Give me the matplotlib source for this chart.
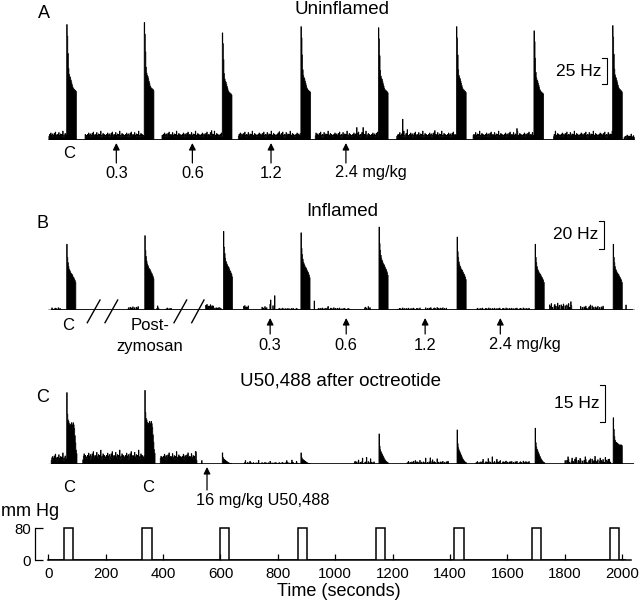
import numpy as np
import matplotlib.pyplot as plt

plt.rcParams['font.family'] = ['Liberation Sans', 'DejaVu Sans']

# ---- data (seconds, Hz, mm Hg) ----
stim_on = [55, 328, 598, 869, 1142, 1415, 1684, 1956]
stim_off = [87, 360, 631, 902, 1174, 1447, 1717, 1990]
stim_mmhg = 80
time_ticks = [0, 200, 400, 600, 800, 1000, 1200, 1400, 1600, 1800, 2000]

bin_w = 2

# baseline texture patterns (typed by eye from the trace)
ripple = [1.0, 0.8, 1.2, 0.9, 1.5, 0.7, 1.1, 1.3, 0.6, 1.0, 1.4, 0.9, 1.7,
          0.8, 1.0, 1.2, 0.5, 1.1, 1.6, 0.9, 1.0, 1.3, 0.7, 1.2, 0.8, 1.9,
          1.0, 0.6, 1.1, 1.4, 0.9, 1.2, 0.8]
sparse = [1.0, 0, 0, 1.2, 0.8, 0, 1.5, 0, 0.6, 0, 0, 1.0, 1.3, 0, 0.9, 0,
          0, 1.6, 0, 0.7, 1.1, 0, 0, 1.2, 0, 0.8, 0, 1.4, 0, 0]

# A: uninflamed
a_starts = [64, 334, 607, 880, 1150, 1423, 1693, 1966]
a_peaks = [111, 113, 103, 109, 108, 109, 105, 110]
a_shape = [1.0, 0.9, 0.75, 0.62, 0.57, 0.55, 0.54, 0.52, 0.5, 0.48, 0.46,
           0.45, 0.44, 0.44, 0.43, 0.43, 0.42]
a_segments = [(2, 64, 4.5, 'd'), (128, 334, 4.5, 'd'), (395, 607, 4.5, 'd'),
              (662, 880, 4.5, 'd'), (930, 1150, 4.5, 'd'), (1214, 1423, 4.5, 'd'),
              (1480, 1693, 4.5, 'd'), (1760, 1966, 4.5, 'd'), (2006, 2042, 3.0, 'd')]
a_spikes = [(569, 9), (805, 8), (1074, 12), (1097, 12), (1235, 20), (1251, 10),
            (1347, 9), (1632, 11)]
a_doses = [237, 502, 776, 1037]
a_dose_labels = ['0.3', '0.6', '1.2', '2.4 mg/kg']

# B: inflamed
b_starts = [64, 337, 610, 880, 1152, 1424, 1696, 1969]
b_peaks = [46, 52, 55, 54, 58, 51, 46, 46]
b_shape = [1.0, 0.8, 0.72, 0.66, 0.62, 0.6, 0.58, 0.56, 0.55, 0.54, 0.52,
           0.5, 0.49, 0.47, 0.45, 0.42]
b_segments = [(9, 41, 1.0, 's'), (275, 314, 1.6, 's'), (377, 386, 1.5, 'd'),
              (407, 430, 1.0, 's'), (548, 575, 2.3, 'd'), (575, 604, 1.3, 's'),
              (679, 697, 1.8, 'd'), (743, 761, 1.5, 's'), (795, 870, 0.8, 's'),
              (940, 1017, 1.0, 's'), (1017, 1051, 0.8, 's'), (1097, 1121, 1.5, 's'),
              (1214, 1295, 0.9, 's'), (1313, 1388, 1.1, 's'), (1493, 1678, 0.9, 's'),
              (1742, 1824, 3.0, 's'), (1853, 1934, 1.8, 's')]
b_spikes = [(772, 4), (775, 7), (782, 3), (788, 10), (926, 6.3), (975, 2.5),
            (1820, 5.8), (1888, 3.5), (2013, 3.5)]
b_doses = [773, 1038, 1313, 1575]
b_dose_labels = ['0.3', '0.6', '1.2', '2.4 mg/kg']

# C: U50,488 after octreotide
c_starts = [64, 337, 607, 880, 1153, 1424, 1696, 1969]
c_peaks = [28.8, 29.7, 4.6, 4.6, 12.2, 13.8, 14.5, 18.7]
c_shape_kind = [0, 0, 1, 1, 1, 1, 1, 2]
c_shapes = [
    [1.0, 0.7, 0.62, 0.6, 0.57, 0.55, 0.54, 0.56, 0.58, 0.55, 0.5, 0.58,
     0.55, 0.5, 0.4, 0.3, 0.2, 0.15],
    [1.0, 0.6, 0.48, 0.42, 0.38, 0.34, 0.3, 0.26, 0.22, 0.18, 0.15, 0.12,
     0.1, 0.08, 0.06, 0.05, 0.04],
    [1.0, 0.75, 0.6, 0.52, 0.48, 0.47, 0.46, 0.45, 0.44, 0.42, 0.42, 0.41,
     0.40, 0.42, 0.41, 0.40],
]
c_segments = [(9, 62, 2.4, 'd'), (120, 337, 3.0, 'd'), (389, 517, 2.7, 'd'),
              (680, 870, 0.5, 's'), (1065, 1140, 0.7, 's'), (1250, 1395, 0.8, 's'),
              (1490, 1680, 0.8, 's'), (1795, 1960, 1.3, 's')]
c_spikes = [(515, 5.0), (534, 1.5), (686, 1.5), (703, 1.2), (732, 1.6), (772, 1.2),
            (830, 1.5), (848, 1.7), (865, 1.2), (1068, 1.2), (1080, 1.7), (1095, 2.5),
            (1109, 2.8), (1123, 2.2), (1254, 1.2), (1278, 1.5), (1295, 1.6),
            (1314, 2.5), (1330, 2.6), (1338, 1.8), (1354, 2.2), (1372, 1.0),
            (1389, 1.0), (1514, 2.0), (1533, 2.3), (1547, 3.0), (1563, 2.0),
            (1574, 1.5), (1592, 1.2), (1610, 1.0), (1627, 1.0), (1645, 1.0),
            (1662, 1.0), (1800, 1.5), (1810, 3.0), (1825, 2.5), (1839, 2.8),
            (1853, 2.4), (1870, 3.0), (1888, 2.2), (1905, 3.2), (1922, 2.5),
            (1940, 2.8), (1950, 2.0)]
c_dose = 553
c_dose_label = '16 mg/kg U50,488'

# ---- layout helpers (pixel based, 640x600) ----
W, H = 640, 600
X0, SX = 48.3, 0.287          # pixel of t=0, pixels per second
XL = (-X0 / SX, (W - X0) / SX)


def tx(t):
    return X0 + SX * t


def ftext(x, y, s, size, **kw):
    fig.text(x / W, 1 - y / H, s, fontsize=size, va='center', **kw)


def arrow(x, y_tip, y_tail):
    fig.add_artist(plt.matplotlib.patches.FancyArrowPatch(
        (x / W, 1 - y_tail / H), (x / W, 1 - y_tip / H),
        transform=fig.transFigure, arrowstyle='-|>,head_length=4,head_width=2',
        lw=0.9, color='black', shrinkA=0, shrinkB=0))


def panel(bottom_px, top_px, px_per_hz):
    ax = fig.add_axes([0, 1 - bottom_px / H, 1, (bottom_px - top_px) / H])
    ax.set_xlim(XL)
    ax.set_ylim(0, (bottom_px - top_px) / px_per_hz)
    ax.axis('off')
    return ax


t = np.arange(0, 2044, bin_w)
edges = np.append(t, t[-1] + bin_w)


def build(segments, spikes, starts, peaks, shapes):
    r = np.zeros(len(t))
    for s, e, lev, kind in segments:
        pat = ripple if kind == 'd' else sparse
        for i in np.where((t >= s) & (t < e))[0]:
            r[i] = lev * pat[i % len(pat)]
    for ts, h in spikes:
        i = int(ts // bin_w)
        r[i] = max(r[i], h)
    for s, p, shp in zip(starts, peaks, shapes):
        i0 = int(s // bin_w)
        r[i0:i0 + len(shp)] = p * np.array(shp)
    return r


def draw_rate(ax, rate, line):
    ax.stairs(rate, edges, fill=True, facecolor='black', edgecolor='black', lw=0.5)
    ax.plot(line, [0, 0], color='black', lw=1.2, solid_capstyle='butt')


def scale_bar(ax, x_px, y_bot_px, base_px, px_per_hz, hz, label):
    xd = (x_px - X0) / SX
    y0 = (base_px - y_bot_px) / px_per_hz
    dx = 5 / SX
    ax.plot([xd - dx, xd, xd, xd - dx], [y0, y0, y0 + hz, y0 + hz],
            color='black', lw=0.8, clip_on=False)
    ftext(x_px - 6, y_bot_px - hz * px_per_hz / 2, label, 12.5, ha='right')


fig = plt.figure(figsize=(6.4, 6.0), dpi=100)

# ---- panel A ----
axA = panel(140, 15, 1.04)
rateA = build(a_segments, a_spikes, a_starts, a_peaks, [a_shape] * 8)
draw_rate(axA, rateA, [2, 2042])
scale_bar(axA, 607, 84.3, 140, 1.04, 25, '25 Hz')
ftext(43.5, 14, 'A', 13, ha='center')
ftext(342, 9, 'Uninflamed', 13.5, ha='center')
ftext(69, 153, 'C', 12, ha='center')
for d, lab in zip(a_doses, a_dose_labels):
    arrow(tx(d), 143, 163)
    if 'mg' in lab:
        ftext(tx(d) - 11, 173, lab, 11.8, ha='left')
    else:
        ftext(tx(d), 173, lab, 11.8, ha='center')

# ---- panel B ----
axB = panel(310, 220, 1.43)
rateB = build(b_segments, b_spikes, b_starts, b_peaks, [b_shape] * 8)
draw_rate(axB, rateB, [9, 2037])
scale_bar(axB, 604.5, 249.3, 310, 1.43, 20, '20 Hz')
ftext(43, 224, 'B', 13, ha='center')
ftext(342, 211, 'Inflamed', 13.5, ha='center')
ftext(68, 325, 'C', 12, ha='center')
ftext(150, 325, 'Post-', 12, ha='center')
ftext(150, 347, 'zymosan', 12, ha='center')
for x1, x2 in [(87.3, 100), (105, 117.7), (174, 186.7), (191.7, 204)]:
    fig.add_artist(plt.Line2D([x1 / W, x2 / W], [1 - 322.7 / H, 1 - 300 / H],
                              transform=fig.transFigure, color='black', lw=1.0))
for d, lab in zip(b_doses, b_dose_labels):
    arrow(tx(d), 318, 334)
    if 'mg' in lab:
        ftext(tx(d) - 11, 345, lab, 11.8, ha='left')
    else:
        ftext(tx(d), 345, lab, 11.8, ha='center')

# ---- panel C ----
axC = panel(464.3, 385, 2.49)
rateC = build(c_segments, c_spikes, c_starts, c_peaks,
              [c_shapes[k] for k in c_shape_kind])
draw_rate(axC, rateC, [9, 2040])
scale_bar(axC, 605.5, 422, 464.3, 2.49, 15, '15 Hz')
ftext(43, 397, 'C', 13, ha='center')
ftext(340, 381, 'U50,488 after octreotide', 13.5, ha='center')
ftext(69, 487, 'C', 12, ha='center')
ftext(148, 487, 'C', 12, ha='center')
arrow(tx(c_dose), 467, 490)
ftext(tx(c_dose) - 11, 500.5, c_dose_label, 11.8, ha='left')

# ---- pressure trace ----
axP = fig.add_axes([0, 1 - 560 / H, 1, 45 / H])
axP.set_xlim(XL)
axP.set_ylim(0, 45 / 0.396)
p_edges = [0]
p_vals = []
for on, off in zip(stim_on, stim_off):
    p_vals += [0, stim_mmhg]
    p_edges += [on, off]
p_vals.append(0)
p_edges.append(2012)
axP.stairs(p_vals, p_edges, color='black', lw=1.1)
for s in ['top', 'right']:
    axP.spines[s].set_visible(False)
axP.spines['left'].set_position(('data', -46))
axP.spines['left'].set_bounds(0, 80)
axP.spines['bottom'].set_bounds(0, 2030)
axP.spines['left'].set_linewidth(0.9)
axP.spines['bottom'].set_linewidth(1.1)
axP.set_yticks([0, 80])
axP.set_xticks(time_ticks)
axP.tick_params(axis='x', direction='in', length=4, width=0.9, pad=5, labelsize=10.8)
axP.tick_params(axis='y', direction='in', length=6, width=0.9, pad=3, labelsize=10.8)
axP.patch.set_alpha(0)
ftext(30, 512, 'mm Hg', 13, ha='center')
ftext(339, 591, 'Time (seconds)', 13, ha='center')

fig.savefig('out.png', dpi=100)
